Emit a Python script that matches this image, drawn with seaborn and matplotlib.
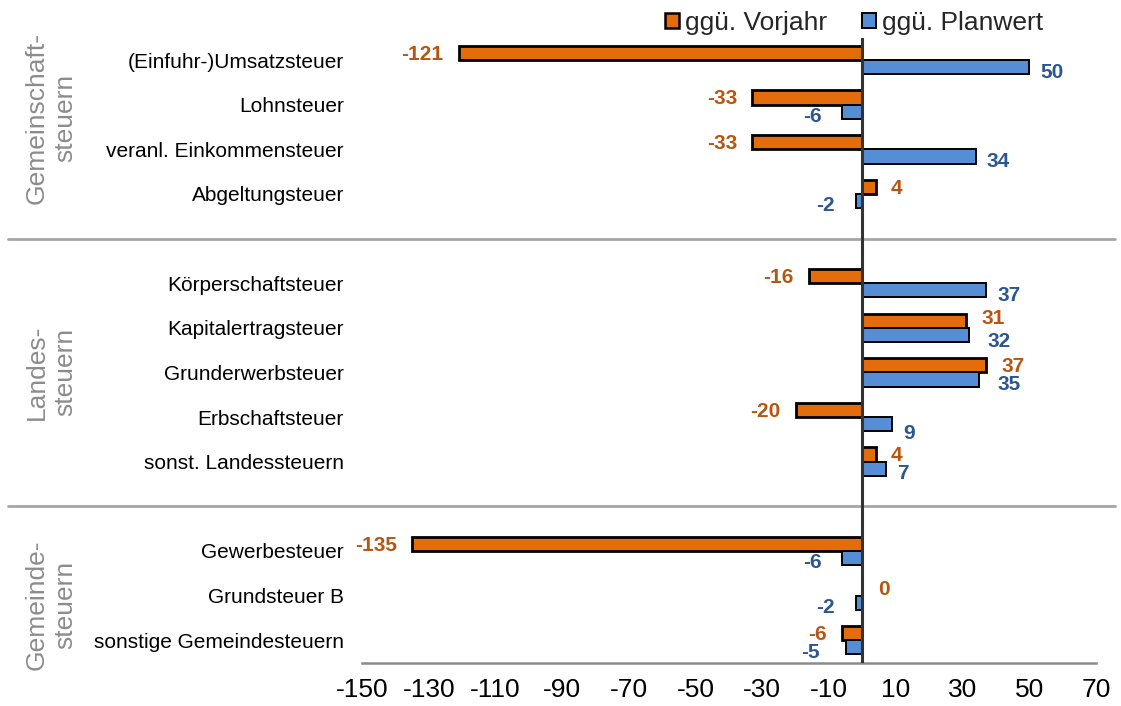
import numpy as np
import pandas as pd
import matplotlib
matplotlib.use("Agg")
import matplotlib.pyplot as plt
import matplotlib.transforms as mtransforms
from matplotlib.patches import Patch
import seaborn as sns

# --- data -------------------------------------------------------------
categories = [
    "(Einfuhr-)Umsatzsteuer", "Lohnsteuer", "veranl. Einkommensteuer", "Abgeltungsteuer",
    "Körperschaftsteuer", "Kapitalertragsteuer", "Grunderwerbsteuer", "Erbschaftsteuer",
    "sonst. Landessteuern",
    "Gewerbesteuer", "Grundsteuer B", "sonstige Gemeindesteuern",
]
group_sizes = [4, 5, 3]
group_names = ["Gemeinschaft-\nsteuern", "Landes-\nsteuern", "Gemeinde-\nsteuern"]
vs_prev_year = [-121, -33, -33, 4, -16, 31, 37, -20, 4, -135, 0, -6]
vs_plan = [50, -6, 34, -2, 37, 32, 35, 9, 7, -6, -2, -5]
series_names = ["ggü. Vorjahr", "ggü. Planwert"]
x_ticks = list(range(-150, 71, 20))

# --- row positions: one blank slot between groups ----------------------
positions = []
separators = []
slot = 0
for gi, n in enumerate(group_sizes):
    positions.extend(range(slot, slot + n))
    slot += n
    if gi < len(group_sizes) - 1:
        separators.append(slot)
        slot += 1
n_slots = slot

df = pd.DataFrame({
    "pos": positions * 2,
    "value": vs_prev_year + vs_plan,
    "series": [series_names[0]] * len(categories) + [series_names[1]] * len(categories),
})

# --- style -------------------------------------------------------------
sns.set_style("white")
plt.rcParams["font.family"] = ["Liberation Sans", "DejaVu Sans"]

orange = "#E46C0A"
blue = "#558ED5"
orange_txt = "#B85610"
blue_txt = "#2B5690"
grey_txt = "#8C8C8C"

fig = plt.figure(figsize=(11.21, 7.06), dpi=100)
ax = fig.add_axes([0.3229, 0.0616, 0.9777 - 0.3229, 0.9466 - 0.0616])

sns.barplot(
    data=df, x="value", y="pos", hue="series", orient="h",
    native_scale=True, dodge=True, width=0.64, saturation=1,
    palette=[orange, blue], edgecolor="black", linewidth=1.5,
    legend=False, ax=ax, errorbar=None,
)

for bar in ax.containers[0]:
    bar.set_linewidth(2.0)
for bar in ax.containers[1]:
    bar.set_linewidth(1.4)

ax.set_xlim(-150, 70)
ax.set_ylim(n_slots - 0.5, -0.5)
ax.set_xticks(x_ticks)
ax.set_xticklabels([str(t) for t in x_ticks], fontsize=19, color="black")
ax.set_yticks(positions)
ax.set_yticklabels(categories, fontsize=15, color="black")
ax.set_xlabel("")
ax.set_ylabel("")

for side in ["top", "right", "left"]:
    ax.spines[side].set_visible(False)
ax.spines["bottom"].set_color("#8A8A8A")
ax.spines["bottom"].set_linewidth(1.8)
ax.tick_params(axis="x", direction="out", length=5.5, width=1.5, color="#8A8A8A", pad=6)
ax.tick_params(axis="y", length=0, pad=13)

# vertical zero axis
ax.axvline(0, color="#333333", lw=2.2, zorder=5)

# group separators across the whole figure width
trans = mtransforms.blended_transform_factory(fig.transFigure, ax.transData)
for s in separators:
    ax.plot([8 / 1121, 1115 / 1121], [s, s], transform=trans, color="#A6A6A6",
            lw=2.0, clip_on=False, zorder=1)

# group titles on the left
group_centers = [1.3, 7.0, 12.2]
for name, yc in zip(group_names, group_centers):
    ax.text(51 / 1121, yc, name, transform=trans, rotation=90, ha="center", va="center",
            fontsize=19, color=grey_txt, linespacing=1.25, multialignment="center")

# value labels (offsets in points; a few are nudged apart)
nudges = {
    (0, 5): (0, 2.5),
    (1, 5): (5, -1),
    (1, 6): (5, 0),
    (1, 11): (-4, 0),
    (1, 7): (0, -3),
}
for si, (container, color) in enumerate(zip(ax.containers, [orange_txt, blue_txt])):
    values = vs_prev_year if si == 0 else vs_plan
    for ci, (bar, v) in enumerate(zip(container, values)):
        yc = bar.get_y() + bar.get_height() / 2
        if si == 0:
            dx = -11 if v < 0 else 11
            dy = -1
        else:
            dx = -15 if v < 0 else 8
            dy = -3.5
        ndx, ndy = nudges.get((si, ci), (0, 0))
        ax.annotate(
            f"{v:d}", xy=(v, yc), xytext=(dx + ndx, dy + ndy), textcoords="offset points",
            ha="right" if v < 0 else "left", va="center",
            fontsize=15, fontweight="bold", color=color, zorder=6,
        )

# legend above the plot
handles = [Patch(facecolor=orange, edgecolor="black", linewidth=1.8, label=series_names[0]),
           Patch(facecolor=blue, edgecolor="black", linewidth=1.4, label=series_names[1])]
fig.legend(handles=handles, loc="center", bbox_to_anchor=(0.762, 0.968), ncol=2,
           frameon=False, fontsize=19, handlelength=0.52, handleheight=0.52,
           handletextpad=0.25, columnspacing=1.3, borderaxespad=0)

fig.savefig("out.png", dpi=100)
